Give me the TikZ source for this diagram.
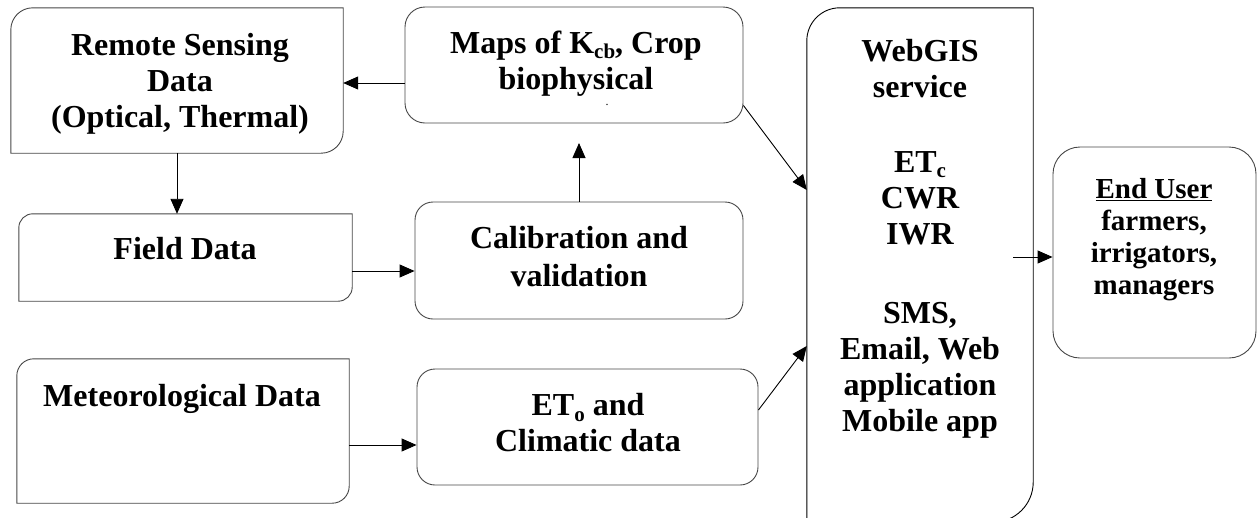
\documentclass[tikz,border=0pt]{standalone}
\usepackage{fontspec}
\setmainfont{Liberation Serif}
\usetikzlibrary{arrows.meta}
\newcommand{\lowsub}[1]{\raisebox{-0.16em}{\fontsize{21}{21}\selectfont #1}}
\newcommand{\diagoutline}[4]{%
  \draw[#4] (#1.south west) -- ([yshift=-#2]#1.north west)
    .. controls ([yshift=-0.448*#2]#1.north west) and ([xshift=0.448*#2]#1.north west) .. ([xshift=#2]#1.north west)
    -- (#1.north east) -- ([yshift=#3]#1.south east)
    .. controls ([yshift=0.448*#3]#1.south east) and ([xshift=-0.448*#3]#1.south east) .. ([xshift=-#3]#1.south east)
    -- cycle;}
\begin{document}
\begin{tikzpicture}[x=1pt,y=-1pt,
  shapebox/.style={rectangle, inner sep=0pt, draw=none},
  rbox/.style={rectangle, draw=black!72, line width=0.9pt, inner sep=0pt},
  boxline/.style={draw=black!72, line width=0.9pt},
  webline/.style={draw=black, line width=0.9pt},
  txt/.style={align=center, inner sep=0pt, font=\bfseries\fontsize{32}{36}\selectfont},
  eutxt/.style={align=center, inner sep=0pt, font=\bfseries\fontsize{29}{32}\selectfont},
  arr/.style={-{Triangle[length=15pt,width=13pt]}, line width=0.9pt, draw=black}]
\useasboundingbox (0,0) rectangle (1257,517);
\clip (0,0) rectangle (1257,517);

% boxes
\node[shapebox, minimum width=332pt, minimum height=145pt] (rs) at (177,80.5) {};
\node[shapebox, minimum width=333pt, minimum height=87pt] (field) at (185.5,257.5) {};
\node[shapebox, minimum width=332pt, minimum height=144pt] (met) at (183,431) {};
\node[shapebox, minimum width=226pt, minimum height=514pt] (web) at (920,265) {};
\node[rbox, rounded corners=20pt, minimum width=338pt, minimum height=116pt] (maps) at (574,65) {};
\node[rbox, rounded corners=18pt, minimum width=328pt, minimum height=117pt] (calib) at (579,260.5) {};
\node[rbox, rounded corners=18pt, minimum width=341pt, minimum height=116pt] (eto) at (587.5,427) {};
\node[rbox, rounded corners=27pt, minimum width=203pt, minimum height=211pt] (eu) at (1154.5,252.5) {};

\diagoutline{rs}{22pt}{22pt}{boxline}
\diagoutline{field}{14pt}{14pt}{boxline}
\diagoutline{met}{17pt}{17pt}{boxline}
\diagoutline{web}{33pt}{40pt}{webline}

% texts
\node[txt] (rs-t) at (180,83.5) {Remote Sensing\\Data\\(Optical, Thermal)};
\node[txt] (field-t) at (185,249) {Field Data};
\node[txt] (met-t) at (182,398.5) {Meteorological Data};
\node[txt] (maps-t) at (576,63.5) {Maps of K\lowsub{cb}, Crop\\biophysical};
\node (maps-dot) at (607,105) {\fontsize{12}{12}\selectfont .};
\node[txt] (calib-t) at (579,257) {Calibration and\\[2pt]validation};
\node[txt] (eto-t) at (588,423) {ET\lowsub{o} and\\Climatic data};
\node[txt] (web-t) at (920,238.5) {WebGIS\\service\\[39pt]ET\lowsub{c}\\CWR\\IWR\\[43pt]SMS,\\Email, Web\\application\\Mobile app};
\node[eutxt] (eu-t) at (1154,240) {\underline{End User}\\farmers,\\irrigators,\\managers};

% connectors
\coordinate (calibtip) at (579,143);
\coordinate (webout) at (1013,257);
\draw[arr] ([yshift=-18pt]maps.west) -- ([yshift=-18pt]maps.west -| rs.east);
\draw[arr] (rs.south) -- (rs.south |- field.north);
\draw[arr] ([yshift=-13.5pt]field.east) -- ([yshift=-13.5pt]field.east -| calib.west);
\draw[arr] (calib.north) -- (calibtip);
\draw[arr] ([yshift=-14pt]met.east) -- ([yshift=-14pt]met.east -| eto.west);
\draw[arr] ([yshift=18pt]maps.south east) -- ([yshift=75pt]web.west);
\draw[arr] ([yshift=17pt]eto.east) -- ([yshift=-81pt]web.west);
\draw[arr] (webout) -- (webout -| eu.west);
\end{tikzpicture}
\end{document}
